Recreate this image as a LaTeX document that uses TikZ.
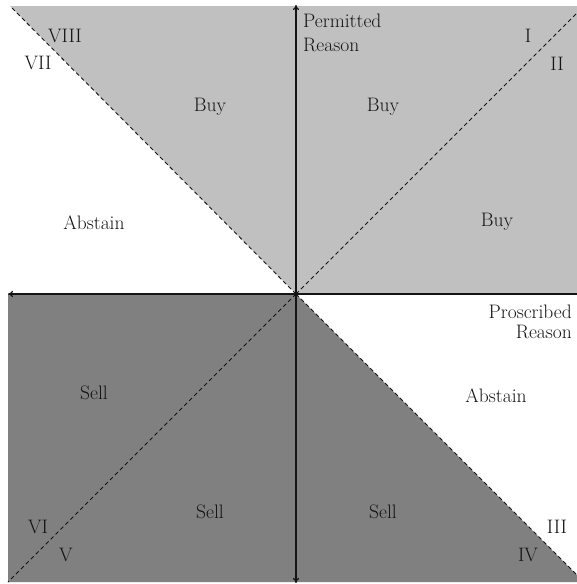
\documentclass[tikz,border=0pt]{standalone}
\usetikzlibrary{arrows.meta}
\definecolor{lightg}{RGB}{192,192,192}
\definecolor{darkg}{RGB}{128,128,128}
\definecolor{inkc}{RGB}{20,20,20}
\begin{document}
\begin{tikzpicture}[x=1pt,y=-1pt,
  lbl/.style={font=\fontsize{19.5}{22}\selectfont, inner sep=0pt, text=inkc},
  divider/.style={dashed, dash pattern=on 4pt off 3pt, line width=0.9pt, draw=inkc},
  axisline/.style={line width=1.2pt, draw=inkc}]
\useasboundingbox (0,0) rectangle (577,584);
% key points
\coordinate (O) at (296,294);
\coordinate (TL) at (10,6);
\coordinate (TR) at (577,13);
\coordinate (BL) at (8,582);
\coordinate (BR) at (577,575);
\coordinate (Ytop) at (296,5);
\coordinate (Ybot) at (296,583);
\coordinate (Xl) at (8,294);
\coordinate (Xr) at (577,294);
% regions
\fill[lightg] (O) -- (TL) -- (577,6) -- (Xr) -- cycle;
\fill[darkg] (O) -- (Xl) -- (BL) -- (577,582) -- (BR) -- cycle;
% dashed dividers
\draw[divider] (O) -- (TL);
\draw[divider] (O) -- (TR);
\draw[divider] (O) -- (BL);
\draw[divider] (O) -- (BR);
% axes
\draw[axisline, {To[length=5pt,width=6pt]}-{To[length=5pt,width=6pt]}] (Ybot) -- (Ytop);
\draw[axisline, -{To[length=5pt,width=6pt]}] (Xr) -- (Xl);
% axis labels
\node[lbl, anchor=west] (perm) at (303,21) {Permitted};
\node[lbl, anchor=west] (permr) at (303,45) {Reason};
\node[lbl, anchor=east] (pros) at (572,312) {Proscribed};
\node[lbl, anchor=east] (prosr) at (572,332) {Reason};
% region labels
\node[lbl] (buy1) at (210,107) {Buy};
\node[lbl] (buy2) at (383,107) {Buy};
\node[lbl] (buy3) at (497,222) {Buy};
\node[lbl] (abs1) at (94,223) {Abstain};
\node[lbl] (abs2) at (496,396) {Abstain};
\node[lbl] (sell1) at (94,393) {Sell};
\node[lbl] (sell2) at (210,512) {Sell};
\node[lbl] (sell3) at (383,512) {Sell};
% sector numerals
\node[lbl] (s1) at (528,36) {I};
\node[lbl] (s2) at (557,64) {II};
\node[lbl] (s3) at (557,527) {III};
\node[lbl] (s4) at (528,555) {IV};
\node[lbl] (s5) at (66,555) {V};
\node[lbl] (s6) at (38,527) {VI};
\node[lbl] (s7) at (38,63) {VII};
\node[lbl] (s8) at (65,36) {VIII};
\end{tikzpicture}
\end{document}
